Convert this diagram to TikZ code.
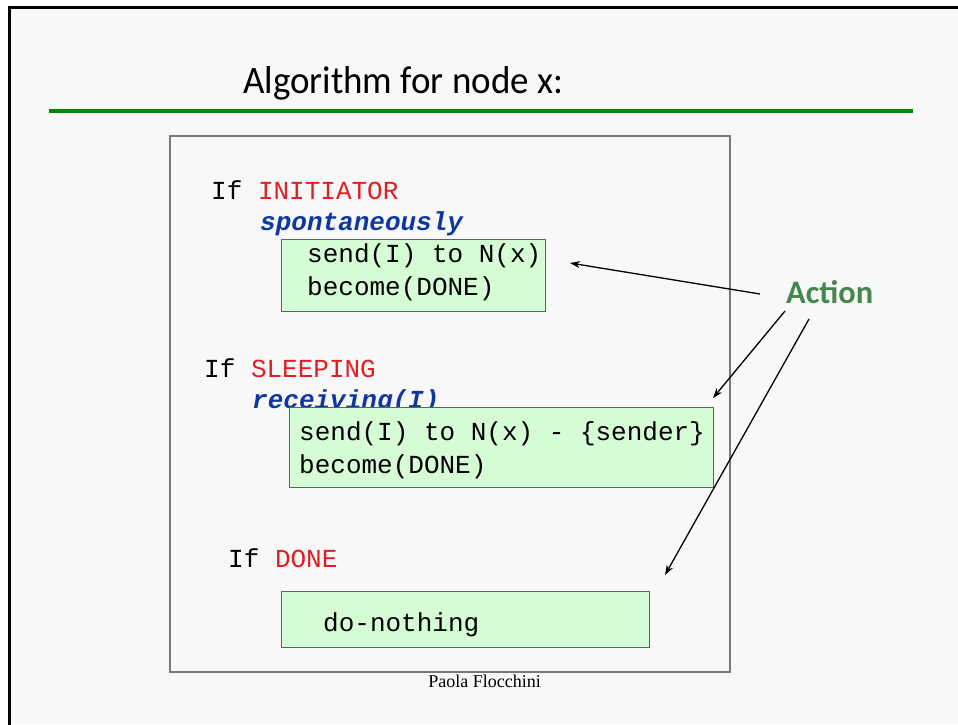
\documentclass[tikz,border=0pt]{standalone}
\usepackage{fontspec}
\setmainfont{Liberation Serif}
\newfontfamily\cmono{Liberation Mono}
\newfontfamily\comicish{Carlito}
\usetikzlibrary{arrows.meta}
\definecolor{pagebg}{HTML}{F8F8F8}
\definecolor{rulegreen}{RGB}{0,136,0}
\definecolor{boxfill}{RGB}{213,252,213}
\definecolor{boxline}{RGB}{96,96,96}
\definecolor{framegray}{RGB}{120,120,120}
\definecolor{condred}{RGB}{225,30,35}
\definecolor{evblue}{RGB}{15,55,160}
\definecolor{actgreen}{RGB}{70,135,80}
\tikzset{
  codetext/.style={anchor=base west, inner sep=0pt, font=\cmono\fontsize{26}{32.5}\selectfont, align=left},
  evtext/.style={codetext, text=evblue, font=\cmono\bfseries\itshape\fontsize{26}{32.5}\selectfont},
  actbox/.style={draw=boxline, line width=1.4pt, fill=boxfill, anchor=north west, inner sep=0pt},
  pointer/.style={line width=1.3pt, -{Stealth[length=10pt,width=7pt]}}
}
\begin{document}
\begin{tikzpicture}[x=1pt,y=-1pt]
\useasboundingbox (0,0) rectangle (958,724);
\fill[white] (0,0) rectangle (958,724);
\fill[pagebg] (9.5,7.5) rectangle (958,724);
\draw[line width=3pt] (9.5,730) -- (9.5,7.5) -- (965,7.5);
% title and rule
\node[anchor=base west, inner sep=0pt] (title) at (243,93) {\comicish\resizebox{320pt}{27pt}{Algorithm for node x:}};
\draw[rulegreen, line width=4.5pt] (49,111) -- (913,111);
% inner frame
\node[draw=framegray, line width=2pt, anchor=north west, minimum width=560pt, minimum height=536pt, inner sep=0pt] (frame) at (169,135) {};
% first rule
\node[codetext] (if1) at (211,199) {If \textcolor{condred}{INITIATOR}};
\node[evtext] (ev1) at (260,230) {spontaneously};
\node[actbox, minimum width=264pt, minimum height=72pt] (box1) at (281,239) {};
\node[codetext] (code1) at (307,295) {send(I) to N(x)\\become(DONE)};
% second rule
\node[codetext] (if2) at (204,377) {If \textcolor{condred}{SLEEPING}};
\node[evtext] (ev2) at (252,408) {receiving(I)};
\node[actbox, minimum width=424pt, minimum height=80pt] (box2) at (289,407) {};
\node[codetext] (code2) at (299,473) {send(I) to N(x) - \{sender\}\\become(DONE)};
% third rule
\node[codetext] (if3) at (228,567) {If \textcolor{condred}{DONE}};
\node[actbox, minimum width=368pt, minimum height=56pt] (box3) at (281,591) {};
\node[codetext] (code3) at (323,631) {do-nothing};
% footer
\node[anchor=base, inner sep=0pt, font=\fontsize{18}{20}\selectfont] (author) at (484.5,687) {Paola Flocchini};
% Action label and pointers
\node[anchor=base west, inner sep=0pt, text=actgreen] (action) at (786,303) {\comicish\bfseries\resizebox{87pt}{23pt}{Action}};
\coordinate (s1) at (760,294);
\coordinate (e1) at (570,263);
\coordinate (s2) at (785,311);
\coordinate (e2) at (713,398);
\coordinate (s3) at (809,319);
\coordinate (e3) at (665,575);
\draw[pointer] (s1) -- (e1);
\draw[pointer] (s2) -- (e2);
\draw[pointer] (s3) -- (e3);
\end{tikzpicture}
\end{document}
